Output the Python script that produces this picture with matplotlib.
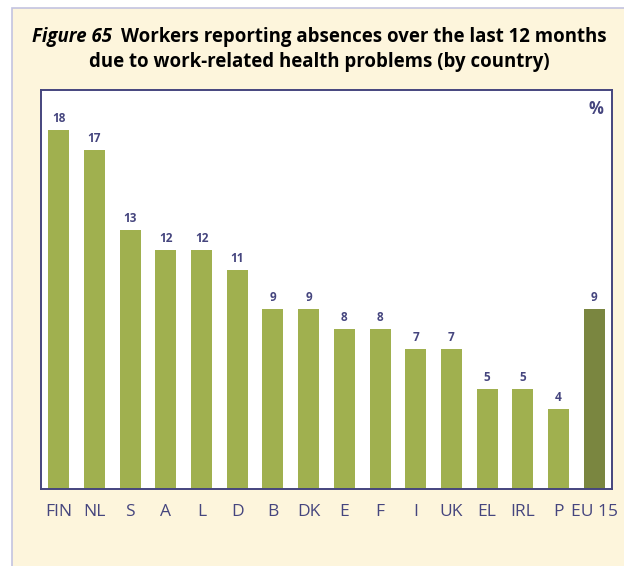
import matplotlib.pyplot as plt
from matplotlib.patches import Rectangle

countries = ["FIN", "NL", "S", "A", "L", "D", "B", "DK", "E", "F", "I", "UK", "EL", "IRL", "P", "EU 15"]
absences = [18, 17, 13, 12, 12, 11, 9, 9, 8, 8, 7, 7, 5, 5, 4, 9]

W, H = 624, 566
bg = "#fdf5dc"
navy = "#45457e"
green = "#a0b04f"
dark_green = "#7a8640"

plt.rcParams['font.family'] = ['Open Sans', 'DejaVu Sans']

fig = plt.figure(figsize=(W / 100, H / 100), dpi=100)
fig.patch.set_facecolor("white")

# cream panel with a thin lavender frame
panel = fig.add_axes([0, 0, 1, 1], zorder=-1)
panel.set_xlim(0, W)
panel.set_ylim(H, 0)
panel.axis("off")
panel.add_patch(Rectangle((12, 8), W, H, facecolor=bg, edgecolor="#c3c3e0", linewidth=1.2))

# title: italic figure number followed by the bold caption
fs = 13.4
r = fig.canvas.get_renderer()
t1 = fig.text(0, 1 - 37 / H, "Figure 65", fontsize=fs, fontweight="bold",
              fontstyle="italic", color="black", va="center", ha="left")
t2 = fig.text(0, 1 - 37 / H, "Workers reporting absences over the last 12 months",
              fontsize=fs, fontweight="bold", color="black", va="center", ha="left")
w1 = t1.get_window_extent(r).width
w2 = t2.get_window_extent(r).width
gap = 9
x0 = 319 - (w1 + gap + w2) / 2
t1.set_x(x0 / W)
t2.set_x((x0 + w1 + gap) / W)
fig.text(319 / W, 1 - 62 / H, "due to work-related health problems (by country)",
         fontsize=fs, fontweight="bold", color="black", va="center", ha="center")

ax = fig.add_axes([41 / W, 1 - 489 / H, (612 - 41) / W, (489 - 90) / H])
ax.set_facecolor("white")
x = range(len(countries))
colors = [green] * (len(countries) - 1) + [dark_green]
ax.bar(x, absences, width=0.59, color=colors)
for xi, v in zip(x, absences):
    ax.text(xi, v + 0.25, str(v), ha="center", va="bottom", fontsize=8.5,
            color=navy, fontweight="bold")

ax.set_xlim(-0.5, len(countries) - 0.5)
ax.set_ylim(0, 20)
ax.set_yticks([])
ax.set_xticks(list(x))
ax.set_xticklabels(countries, fontsize=12.5, color=navy)
ax.tick_params(axis="x", length=0, pad=11)
for s in ax.spines.values():
    s.set_color(navy)
    s.set_linewidth(1.4)
ax.text(0.985, 0.975, "%", transform=ax.transAxes, ha="right", va="top",
        fontsize=12, color=navy, fontweight="bold")

fig.savefig("out.png", dpi=100)
